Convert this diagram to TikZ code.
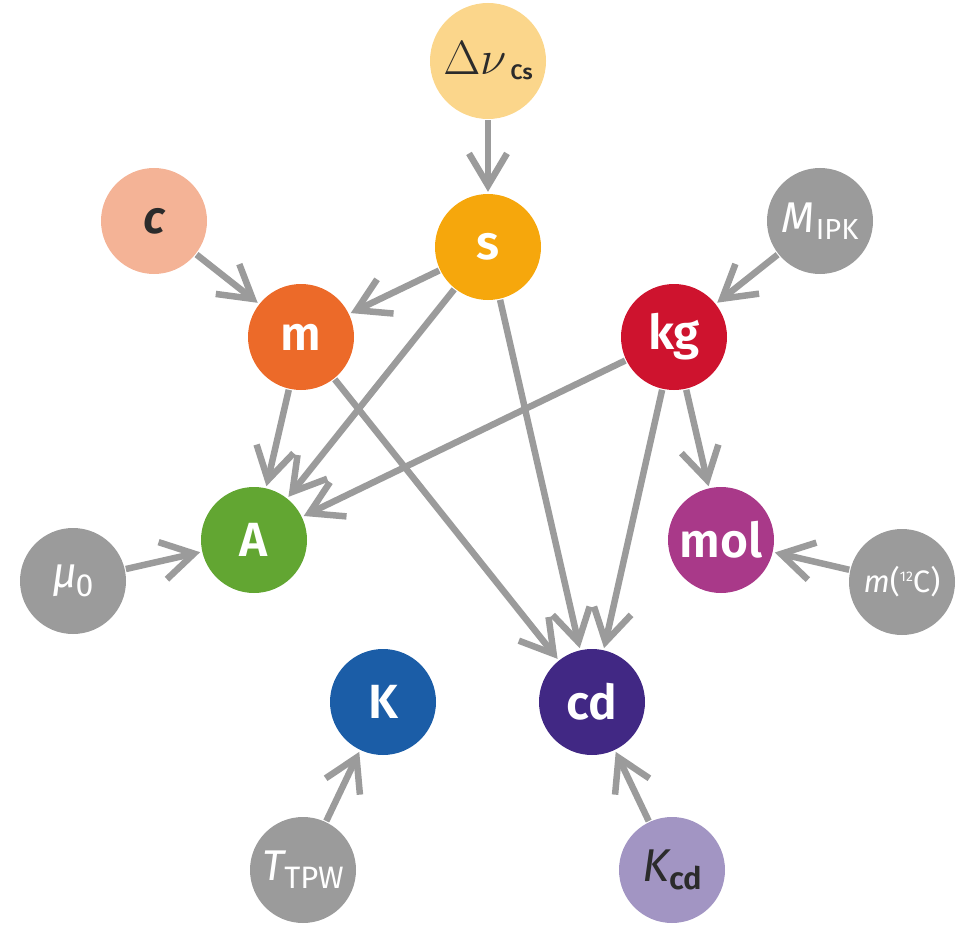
\documentclass[tikz,border=0pt]{standalone}
\usepackage[no-math]{fontspec}
\setmainfont{Fira Sans}[BoldFont={Fira Sans SemiBold}]
\usetikzlibrary{arrows.meta}
\definecolor{cdnu}{HTML}{FBD68B}
\definecolor{cs}{HTML}{F6A70C}
\definecolor{cc}{HTML}{F4B396}
\definecolor{cm}{HTML}{EC6A29}
\definecolor{ckg}{HTML}{CE132E}
\definecolor{cgray}{HTML}{9B9B9B}
\definecolor{cA}{HTML}{62A632}
\definecolor{cmol}{HTML}{A93989}
\definecolor{cK}{HTML}{1B5DA7}
\definecolor{ccd}{HTML}{412884}
\definecolor{cKcd}{HTML}{A295C3}
\definecolor{darktext}{HTML}{2B2B2B}
\definecolor{arrowgray}{HTML}{9B9B9B}
\newcommand{\fs}[1]{\fontsize{#1}{#1}\selectfont}
\begin{document}
\begin{tikzpicture}[x=1pt,y=-1pt,
  disc/.style={circle, minimum size=106pt, inner sep=0pt, fill=#1, text=white},
  unit/.style={disc=#1, font=\fs{48}\bfseries},
  sym/.style={disc=#1, font=\fs{43}},
  arr/.style={draw=arrowgray, line width=6.5pt,
    -{Straight Barb[length=32pt,width=38pt,sharp]}, shorten <=1pt, shorten >=2pt}]
\useasboundingbox (0,0) rectangle (977,944);
% defining constants
\node[disc=cdnu, minimum size=116pt, text=darktext] (dnu) at (488,61)
  {\scalebox{1.93}{\fs{24.88}$\Delta\nu$}\hspace{4pt}\raisebox{-5pt}{\fs{21}\bfseries Cs}};
\node[sym=cc, text=darktext, font=\fs{46}\bfseries\itshape] (c) at (154,221) {c};
\node[sym=cgray] (M) at (820,221) {\itshape M\upshape\kern1pt\raisebox{-7pt}{\fs{29}IPK}};
\node[sym=cgray] (mu) at (73,581) {\itshape μ\upshape\kern-2pt\raisebox{-9pt}{\fs{32}0}};
\node[sym=cgray, font=\fs{31}] (C12) at (902,582) {\itshape m\upshape(\raisebox{11pt}{\fs{14}12}C)};
\node[sym=cgray] (T) at (303,870) {\itshape T\upshape\raisebox{-8pt}{\fs{31}TPW}};
\node[sym=cKcd, text=darktext, font=\fs{46}] (Kcd) at (672,870) {\itshape K\upshape\raisebox{-8pt}{\fs{31}\bfseries cd}};
% units
\node[unit=cs] (s) at (488,247) {s};
\node[unit=cm] (m) at (301,337) {m};
\node[unit=ckg] (kg) at (674,337) {kg};
\node[unit=cA] (A) at (254,540) {A};
\node[unit=cmol] (mol) at (721,540) {mol};
\node[unit=cK] (K) at (383,702) {K};
\node[unit=ccd] (cd) at (592,702) {cd};
% connectors
\draw[arr] (dnu) -- (s);
\draw[arr] (c) -- (m);
\draw[arr] (s) -- (m);
\draw[arr] (s) -- (A);
\draw[arr] (s) -- (cd);
\draw[arr] (m) -- (A);
\draw[arr] (m) -- (cd);
\draw[arr] (kg) -- (A);
\draw[arr] (kg) -- (cd);
\draw[arr] (kg) -- (mol);
\draw[arr] (M) -- (kg);
\draw[arr] (mu) -- (A);
\draw[arr] (C12) -- (mol);
\draw[arr] (T) -- (K);
\draw[arr] (Kcd) -- (cd);
\end{tikzpicture}
\end{document}
